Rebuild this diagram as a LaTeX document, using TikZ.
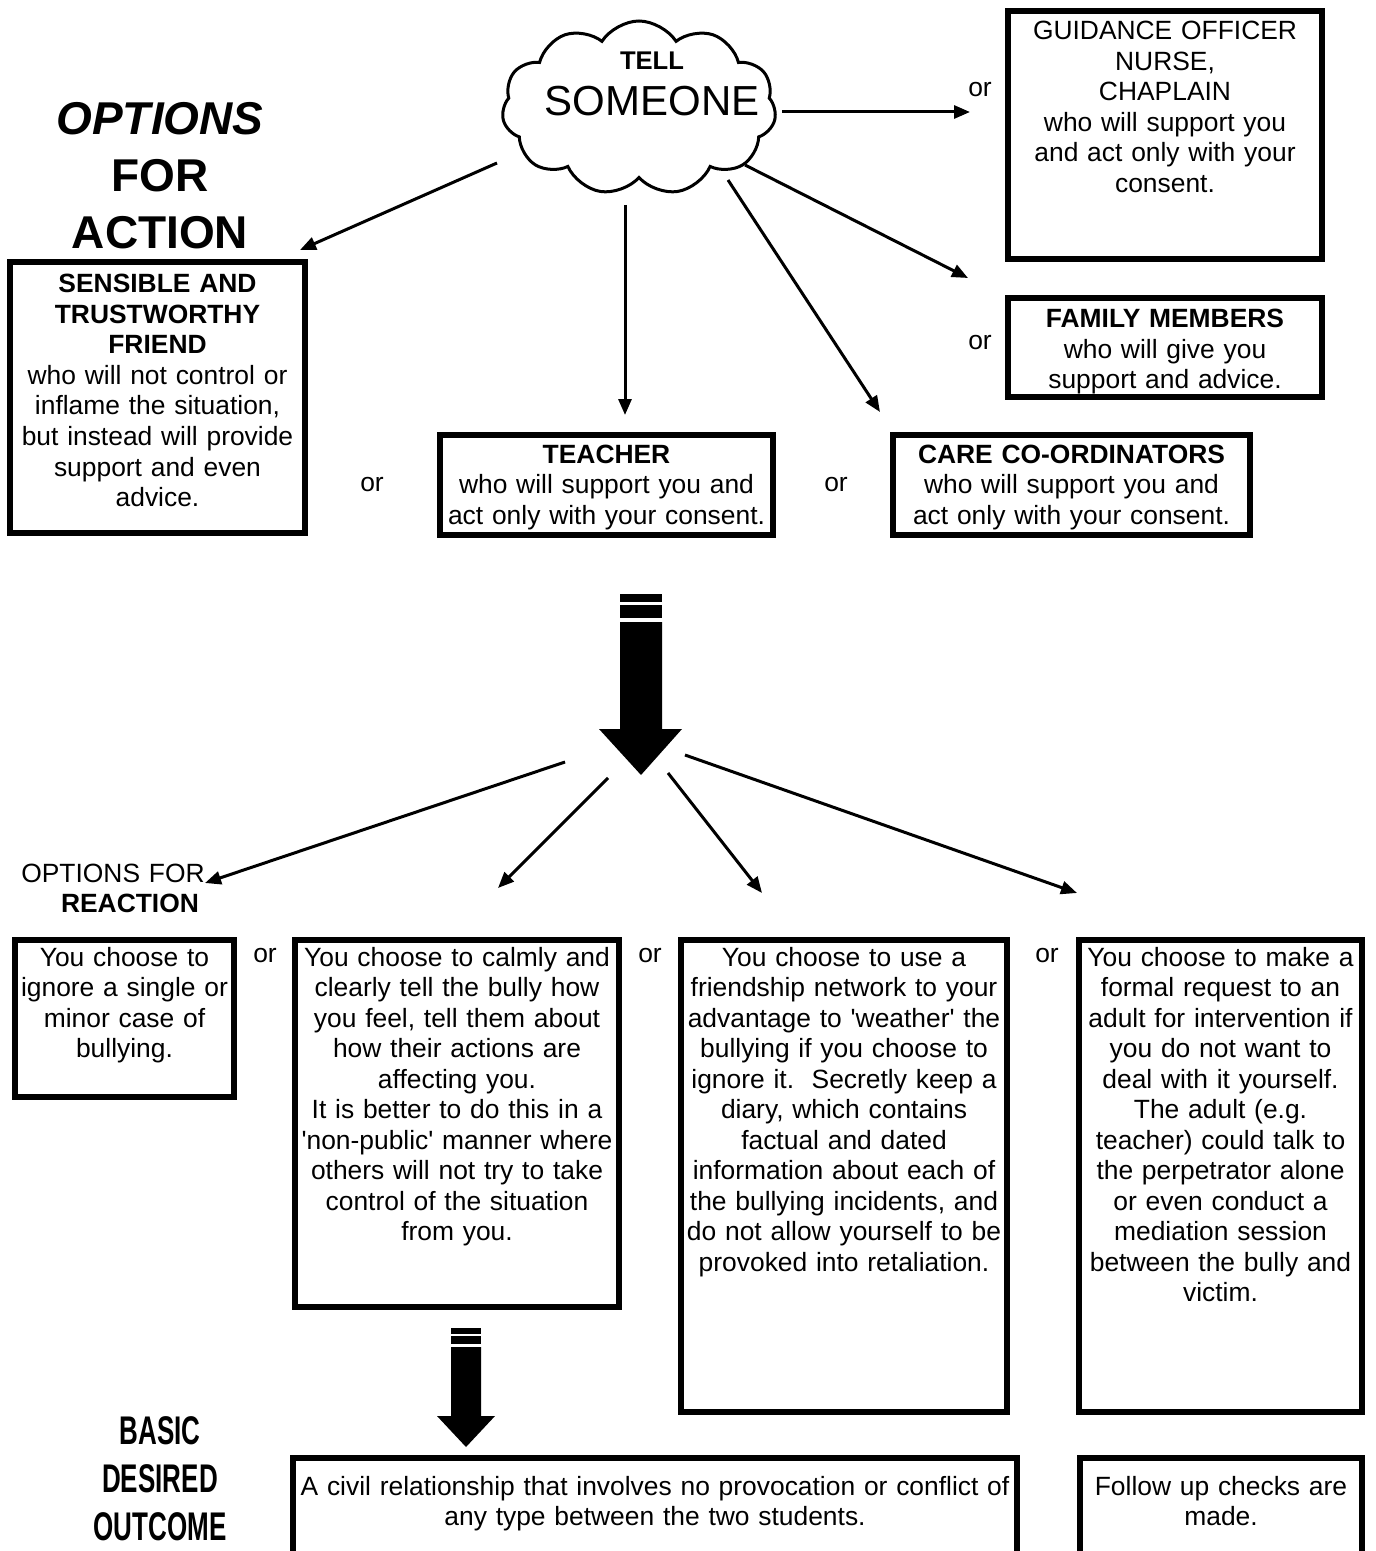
\documentclass[tikz,border=0pt]{standalone}
\usepackage{fontspec}
\setmainfont{Liberation Sans}[Ligatures=TeXOff]
\newfontfamily\narrowfont{Liberation Sans}[FakeStretch=0.65]
\usetikzlibrary{arrows.meta,shapes.symbols}

\tikzset{
  boxframe/.style={draw, line width=3pt, inner sep=0pt},
  boxtext/.style={inner sep=0pt, align=center, text width=190pt, anchor=base,
    font=\fontsize{13.2}{15.25}\selectfont},
  ortext/.style={inner sep=0pt, font=\fontsize{13.2}{15.25}\selectfont},
  arr/.style={line width=1.5pt, -{Triangle[length=8pt,width=6.5pt]}}
}

\begin{document}
\begin{tikzpicture}[x=0.5pt,y=-0.5pt]
\useasboundingbox (0,0) rectangle (1375,1551);
\clip (0,0) rectangle (1375,1551);

\node[boxtext, text width=150pt, font=\fontsize{23}{28.5}\selectfont\bfseries] (action) at (160,134.5) {\textit{OPTIONS}\\FOR\\ACTION};
\node[boxtext, text width=150pt, font=\fontsize{20}{24}\selectfont\narrowfont\bfseries] (outcome) at (160,1444) {BASIC\\DESIRED\\OUTCOME};
\node[boxtext, text width=150pt] (reaction) at (113,882) {OPTIONS FOR\\\hspace*{17pt}\textbf{REACTION}};

\node[cloud, draw, line width=1.5pt, cloud puffs=11, cloud puff arc=115, minimum width=137pt, minimum height=87pt, inner sep=0pt] (cloud) at (639,108) {};
\node[boxtext, font=\fontsize{21}{23}\selectfont] (tell) at (652,70) {{\fontsize{12.8}{14}\selectfont\bfseries TELL}\\SOMEONE};

\node[boxframe, minimum width=157pt, minimum height=124pt] (guid) at (1165,135) {};
\node[boxtext] (guidtxt) at (1165,40) {GUIDANCE OFFICER\\NURSE,\\CHAPLAIN\\who will support you\\and act only with your\\consent.};
\node[boxframe, minimum width=157pt, minimum height=49.5pt] (family) at (1165,347.5) {};
\node[boxtext] (familytxt) at (1165,328) {\textbf{FAMILY MEMBERS}\\who will give you\\support and advice.};
\node[boxframe, minimum width=147.5pt, minimum height=135.5pt] (friend) at (157.5,397.5) {};
\node[boxtext] (friendtxt) at (157.5,293) {\textbf{SENSIBLE AND}\\\textbf{TRUSTWORTHY}\\\textbf{FRIEND}\\who will not control or\\inflame the situation,\\but instead will provide\\support and even\\advice.};
\node[boxframe, minimum width=166.5pt, minimum height=50pt] (teacher) at (606.5,485) {};
\node[boxtext] (teachertxt) at (606.5,463) {\textbf{TEACHER}\\who will support you and\\act only with your consent.};
\node[boxframe, minimum width=178.5pt, minimum height=50pt] (care) at (1071.5,485) {};
\node[boxtext] (caretxt) at (1071.5,463) {\textbf{CARE CO-ORDINATORS}\\who will support you and\\act only with your consent.};

\node[ortext] (or1) at (980,90) {or};
\node[ortext] (or2) at (980,343) {or};
\node[ortext] (or3) at (372,485) {or};
\node[ortext] (or4) at (836,485) {or};

\coordinate (c1) at (782,112);  \coordinate (c1e) at (970,112);
\coordinate (c2) at (497,163);  \coordinate (c2e) at (300,250);
\coordinate (c3) at (625,205);  \coordinate (c3e) at (625,415);
\coordinate (c4) at (728,180);  \coordinate (c4e) at (880,412);
\coordinate (c5) at (745,165);  \coordinate (c5e) at (968,278);
\draw[arr] (c1) -- (c1e);
\draw[arr] (c2) -- (c2e);
\draw[arr] (c3) -- (c3e);
\draw[arr] (c4) -- (c4e);
\draw[arr] (c5) -- (c5e);

\fill (620,594) rectangle (662,602);
\fill (620,605) rectangle (662,618);
\fill (620,622) -- (662,622) -- (662,729) -- (682,729) -- (641,775) -- (599,729) -- (620,729) -- cycle;

\coordinate (d1) at (565,762);  \coordinate (d1e) at (205,883);
\coordinate (d2) at (608,778);  \coordinate (d2e) at (498,888);
\coordinate (d3) at (668,773);  \coordinate (d3e) at (762,893);
\coordinate (d4) at (685,755);  \coordinate (d4e) at (1077,893);
\draw[arr] (d1) -- (d1e);
\draw[arr] (d2) -- (d2e);
\draw[arr] (d3) -- (d3e);
\draw[arr] (d4) -- (d4e);

\node[boxframe, minimum width=109.5pt, minimum height=78.5pt] (ignore) at (124.5,1018.5) {};
\node[boxtext] (ignoretxt) at (124.5,966) {You choose to\\ignore a single or\\minor case of\\bullying.};
\node[boxframe, minimum width=162pt, minimum height=183.5pt] (calm) at (457,1123.5) {};
\node[boxtext] (calmtxt) at (457,966) {You choose to calmly and\\clearly tell the bully how\\you feel, tell them about\\how their actions are\\affecting you.\\It is better to do this in a\\'non-public' manner where\\others will not try to take\\control of the situation\\from you.};
\node[boxframe, minimum width=163pt, minimum height=236pt] (network) at (844,1176) {};
\node[boxtext] (networktxt) at (844,966) {You choose to use a\\friendship network to your\\advantage to 'weather' the\\bullying if you choose to\\ignore it.\ \ Secretly keep a\\diary, which contains\\factual and dated\\information about each of\\the bullying incidents, and\\do not allow yourself to be\\provoked into retaliation.};
\node[boxframe, minimum width=141.5pt, minimum height=236pt] (request) at (1220.5,1176) {};
\node[boxtext] (requesttxt) at (1220.5,966) {You choose to make a\\formal request to an\\adult for intervention if\\you do not want to\\deal with it yourself.\\The adult (e.g.\\teacher) could talk to\\the perpetrator alone\\or even conduct a\\mediation session\\between the bully and\\victim.};

\node[ortext] (or5) at (265,956) {or};
\node[ortext] (or6) at (650,956) {or};
\node[ortext] (or7) at (1047,956) {or};

\fill (451,1328) rectangle (481,1334);
\fill (451,1336) rectangle (481,1344);
\fill (451,1347) -- (481,1347) -- (481,1416) -- (495,1416) -- (466,1447) -- (437,1416) -- (451,1416) -- cycle;

\node[boxframe, minimum width=362pt, minimum height=71pt] (civil) at (655,1529) {};
\node[boxtext, text width=400pt] (civiltxt) at (655,1495) {A civil relationship that involves no provocation or conflict of\\any type between the two students.};
\node[boxframe, minimum width=141pt, minimum height=71pt] (followup) at (1221,1529) {};
\node[boxtext] (followuptxt) at (1221,1495) {Follow up checks are\\made.};

\end{tikzpicture}
\end{document}
